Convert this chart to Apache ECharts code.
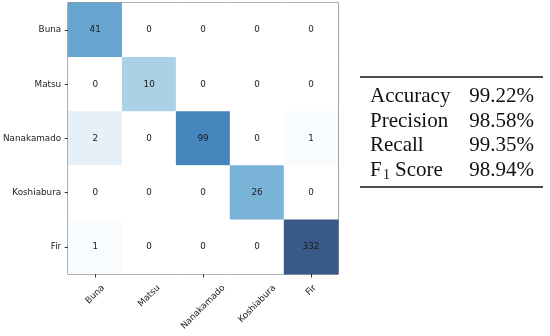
<!DOCTYPE html>
<html>
<head>
<meta charset="utf-8">
<script src="https://cdn.jsdelivr.net/npm/echarts@6/dist/echarts.min.js"></script>
<style>html,body{margin:0;padding:0;background:#fff}#c{width:550px;height:336px}</style>
</head>
<body>
<div id="c"></div>
<script>
// ---- data ----
var categories = ['Buna', 'Matsu', 'Nanakamado', 'Koshiabura', 'Fir'];
// rows = true class, columns = predicted class
var rowBuna       = [41, 0, 0, 0, 0];
var rowMatsu      = [0, 10, 0, 0, 0];
var rowNanakamado = [2, 0, 99, 0, 1];
var rowKoshiabura = [0, 0, 0, 26, 0];
var rowFir        = [1, 0, 0, 0, 332];
var metricNames  = ['Accuracy', 'Precision', 'Recall', 'F1 Score'];
var metricValues = ['99.22%', '98.58%', '99.35%', '98.94%'];

var matrix = [rowBuna, rowMatsu, rowNanakamado, rowKoshiabura, rowFir];

// matplotlib "Blues" colormap, log normalisation, alpha 0.8 on white
var bluesStops = [[247,251,255],[222,235,247],[198,219,239],[158,202,225],[107,174,214],[66,146,198],[33,113,181],[8,81,156],[8,48,107]];
var vmin = 1, vmax = 332;
function colorFor(v) {
  if (v <= 0) return '#ffffff';
  var t = (Math.log(v) - Math.log(vmin)) / (Math.log(vmax) - Math.log(vmin));
  t = Math.max(0, Math.min(1, t));
  var p = t * (bluesStops.length - 1);
  var i = Math.min(Math.floor(p), bluesStops.length - 2);
  var f = p - i;
  var c = [0,1,2].map(function (k) {
    var val = bluesStops[i][k] + (bluesStops[i+1][k] - bluesStops[i][k]) * f;
    return Math.round(0.8 * val + 0.2 * 255);
  });
  return 'rgb(' + c.join(',') + ')';
}

var heatData = [];
matrix.forEach(function (row, r) {
  row.forEach(function (v, c) {
    heatData.push({ value: [c, r, v], itemStyle: { color: colorFor(v) } });
  });
});

var chart = echarts.init(document.getElementById('c'), null, { renderer: 'canvas' });
var sansFont = 'DejaVu Sans';
var serifFont = 'Liberation Serif';
var option = {
  animation: false,
  grid: { left: 68, top: 3, width: 270, height: 271, show: true, borderColor: '#333', borderWidth: 1.2, backgroundColor: 'transparent' },
  xAxis: {
    type: 'category', data: categories, position: 'bottom',
    axisLine: { show: false },
    axisTick: { show: true, alignWithLabel: true, length: 3.5, lineStyle: { color: '#333', width: 1 } },
    axisLabel: { show: false },
    splitLine: { show: false }
  },
  yAxis: {
    type: 'category', data: categories, inverse: true,
    axisLine: { show: false },
    axisTick: { show: true, alignWithLabel: true, length: 3.5, lineStyle: { color: '#333', width: 1 } },
    axisLabel: { show: true, fontSize: 8.8, fontFamily: sansFont, color: '#222', margin: 7 },
    splitLine: { show: false }
  },
  series: [{
    type: 'heatmap',
    data: heatData,
    label: { show: true, fontSize: 8.8, fontFamily: sansFont, color: '#1a1a1a', formatter: function (p) { return p.value[2]; } },
    itemStyle: { borderWidth: 0 },
    z: 1
  }]
};
chart.setOption(option);

// rotated x tick labels (centred on tick, matplotlib style)
var cv = document.createElement('canvas').getContext('2d');
cv.font = '8.8px "' + sansFont + '"';
var graphics = [];
categories.forEach(function (name, i) {
  var px = chart.convertToPixel({ gridIndex: 0 }, [i, 0]);
  var w = cv.measureText(name).width, h = 10;
  var ext = (w + h) * Math.SQRT1_2;
  graphics.push({
    type: 'text', x: px[0], y: 283 + ext / 2, rotation: Math.PI / 4,
    style: { text: name, font: '8.8px "' + sansFont + '"', fill: '#222', align: 'center', verticalAlign: 'middle' }
  });
});

// metrics table
graphics.push({ type: 'line', shape: { x1: 360, y1: 77, x2: 543, y2: 77 }, style: { stroke: '#111', lineWidth: 1.3 } });
graphics.push({ type: 'line', shape: { x1: 360, y1: 187, x2: 543, y2: 187 }, style: { stroke: '#111', lineWidth: 1.3 } });
var rowY = [96, 121, 145, 170];
var tfont = '21px "' + serifFont + '"';
metricNames.forEach(function (name, i) {
  if (name === 'F1 Score') {
    graphics.push({ type: 'text', x: 370, y: rowY[i], style: { text: 'F', font: tfont, fill: '#111', align: 'left', verticalAlign: 'middle' } });
    graphics.push({ type: 'text', x: 383, y: rowY[i] + 5, style: { text: '1', font: '14px "' + serifFont + '"', fill: '#111', align: 'left', verticalAlign: 'middle' } });
    graphics.push({ type: 'text', x: 395, y: rowY[i], style: { text: 'Score', font: tfont, fill: '#111', align: 'left', verticalAlign: 'middle' } });
  } else {
    graphics.push({ type: 'text', x: 370, y: rowY[i], style: { text: name, font: tfont, fill: '#111', align: 'left', verticalAlign: 'middle' } });
  }
  graphics.push({ type: 'text', x: 534, y: rowY[i], style: { text: metricValues[i], font: tfont, fill: '#111', align: 'right', verticalAlign: 'middle' } });
});
chart.setOption({ graphic: graphics });
</script>
</body>
</html>
